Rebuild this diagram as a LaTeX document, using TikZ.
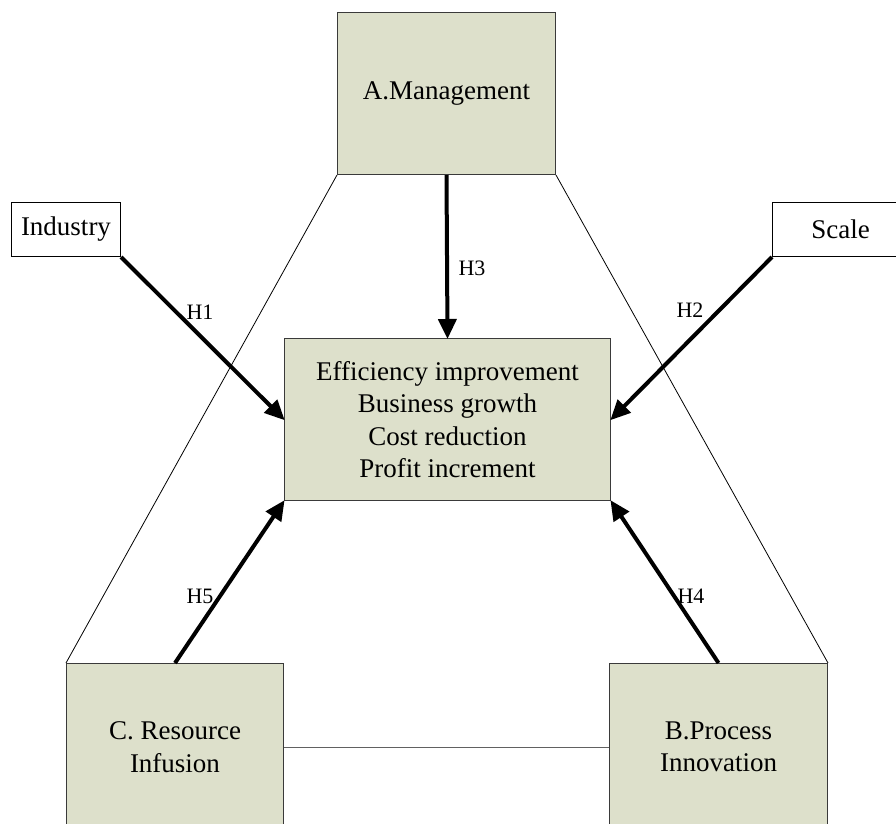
\documentclass[tikz,border=0pt]{standalone}
\usepackage{fontspec}
\setmainfont{Liberation Serif}
\usetikzlibrary{arrows.meta}
\definecolor{boxfill}{HTML}{DDE0CB}
\definecolor{boxline}{HTML}{3A3A3A}
\begin{document}
\begin{tikzpicture}[x=1pt,y=-1pt,
  gbox/.style={draw=boxline,line width=1pt,fill=boxfill,anchor=north west,inner sep=0pt,align=center,font=\fontsize{27}{32.5}\selectfont},
  wbox/.style={draw=black,line width=1pt,fill=white,anchor=north west,inner sep=0pt,align=center,font=\fontsize{27}{32.5}\selectfont},
  harrow/.style={line width=4pt,-{Triangle[length=20pt,width=18pt]},shorten >=-1pt},
  thin/.style={line width=0.8pt,draw=black},
  hlab/.style={font=\fontsize{22}{24}\selectfont,inner sep=0pt}]
\useasboundingbox (0,0) rectangle (896,823);
\clip (0,0) rectangle (896,823);
\fill[white] (0,0) rectangle (896,823);
% boxes
\node[gbox,minimum width=218pt,minimum height=162pt] (A) at (337,12) {A.Management};
\node[gbox,minimum width=326pt,minimum height=162pt] (E) at (284,338) {Efficiency improvement\\Business growth\\Cost reduction\\Profit increment};
\node[gbox,minimum width=217pt,minimum height=167pt] (C) at (66,663) {C. Resource\\Infusion};
\node[gbox,minimum width=218pt,minimum height=167pt] (B) at (609,663) {B.Process\\Innovation};
\node[wbox,minimum width=109pt,minimum height=54pt] (I) at (11,202) {Industry};
\node[wbox,minimum width=136pt,minimum height=54pt] (S) at (772,202) {Scale};
% thin lines
\draw[thin] (A.south west) -- (C.north west);
\draw[thin] (A.south east) -- (B.north east);
\draw[line width=1pt,draw=boxline!80] (C.east) -- (B.west);
% arrows
\draw[harrow] (I.south east) -- (E.west);
\draw[harrow] (S.south west) -- (E.east);
\draw[harrow] (A.south) -- (E.north);
\draw[harrow] (C.north) -- (E.south west);
\draw[harrow] (B.north) -- (E.south east);
% labels
\node[hlab] (h1) at (200,312) {H1};
\node[hlab] (h2) at (690,310) {H2};
\node[hlab] (h3) at (472,268) {H3};
\node[hlab] (h5) at (200,596) {H5};
\node[hlab] (h4) at (691,596) {H4};
\end{tikzpicture}
\end{document}
